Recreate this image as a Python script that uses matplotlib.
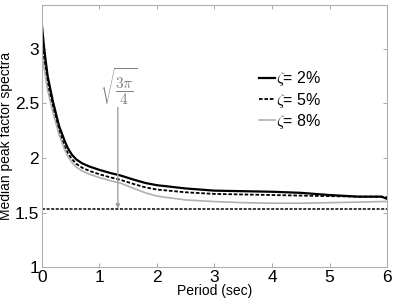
import numpy as np
import matplotlib
matplotlib.use("Agg")
import matplotlib.pyplot as plt

plt.rcParams['font.family'] = ['Liberation Sans', 'DejaVu Sans']
plt.rcParams['mathtext.fontset'] = 'cm'

# Median peak factor spectra
period = [0.0, 0.04, 0.1, 0.19, 0.3, 0.4, 0.45, 0.52, 0.6, 0.7, 0.83, 1.0, 1.2, 1.36, 1.6, 1.8, 2.0,
          2.5, 3.0, 3.5, 4.0, 4.5, 5.0, 5.5, 5.9, 6.0]
zeta2 = [3.22, 3.0, 2.75, 2.52, 2.29, 2.15, 2.09, 2.03, 1.985, 1.95, 1.92, 1.89, 1.86, 1.84, 1.80,
         1.77, 1.75, 1.72, 1.70, 1.695, 1.69, 1.68, 1.66, 1.645, 1.645, 1.625]
zeta5 = [3.08, 2.9, 2.68, 2.46, 2.24, 2.10, 2.045, 1.99, 1.945, 1.91, 1.88, 1.85, 1.82, 1.80, 1.76,
         1.73, 1.71, 1.685, 1.67, 1.665, 1.66, 1.655, 1.65, 1.645, 1.645, 1.64]
zeta8 = [2.95, 2.82, 2.62, 2.42, 2.21, 2.07, 2.015, 1.96, 1.915, 1.88, 1.85, 1.82, 1.79, 1.77, 1.72,
         1.68, 1.65, 1.615, 1.60, 1.59, 1.585, 1.585, 1.59, 1.595, 1.60, 1.60]
ref_level = np.sqrt(3 * np.pi / 4)
arrow_x = 1.32
arrow_top = 2.46

fig = plt.figure(figsize=(3.95, 3.06), dpi=100)
ax = fig.add_axes([0.106, 0.127, 0.874, 0.857])

ax.plot(period, zeta2, color='black', lw=1.6, label=r'$\zeta$= 2%')
ax.plot(period, zeta5, color='black', lw=1.3, ls=(0, (2, 1)), label=r'$\zeta$= 5%')
ax.plot(period, zeta8, color='#b0b0b0', lw=1.2, label=r'$\zeta$= 8%')
ax.axhline(ref_level, color='black', lw=1.1, ls=(0, (2, 1)))

ax.annotate('', xy=(arrow_x, ref_level), xytext=(arrow_x, arrow_top),
            arrowprops=dict(arrowstyle='-|>', color='#a0a0a0', lw=1.0,
                            mutation_scale=6, shrinkA=0, shrinkB=0))
ax.text(arrow_x + 0.02, 2.65, r'$\sqrt{\dfrac{3\pi}{4}}$', color='#808080', fontsize=11,
        ha='center', va='center')

ax.set_xlim(0, 6)
ax.set_ylim(1, 3.4)
ax.set_xticks([0, 1, 2, 3, 4, 5, 6])
ax.set_yticks([1, 1.5, 2, 2.5, 3])
ax.set_yticklabels(['1', '1.5', '2', '2.5', '3'])
ax.tick_params(direction='in', length=3, width=0.6, color='#999999', labelsize=12.5,
               top=True, right=True, pad=2)
for s in ax.spines.values():
    s.set_color('#b0b0b0')
    s.set_linewidth(0.8)

ax.set_xlabel('Period (sec)', fontsize=10, labelpad=-1)
ax.set_ylabel('Median peak factor spectra', fontsize=10, labelpad=1)

ax.legend(loc='upper left', bbox_to_anchor=(0.605, 0.785), frameon=False, fontsize=11.5,
          handlelength=1.0, handletextpad=0.1, labelspacing=0.15, borderpad=0)

fig.savefig('out.png', dpi=100)
